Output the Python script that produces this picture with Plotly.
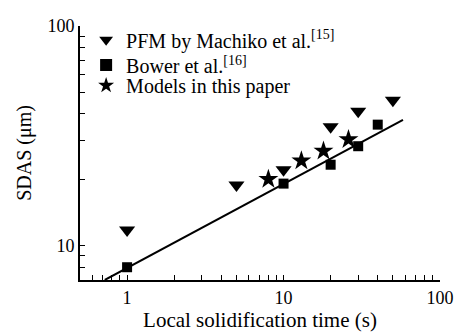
import plotly.graph_objects as go

# Data
pfm_x = [1, 5, 10, 20, 30, 50]
pfm_y = [11.8, 18.9, 22.2, 34.8, 41.0, 45.9]

bower_x = [1, 10, 20, 30, 40]
bower_y = [8.0, 19.2, 23.4, 28.4, 35.6]

model_x = [8, 13, 18, 26]
model_y = [20.1, 24.4, 27.0, 30.5]

fit_x = [0.72, 58]
fit_y = [7.0, 37.4]

x_tickvals = [0.6, 0.7, 0.8, 0.9, 1, 2, 3, 4, 5, 6, 7, 8, 9, 10,
              20, 30, 40, 50, 60, 70, 80, 90, 100]
x_ticktext = [str(v) if v in (1, 10, 100) else "" for v in x_tickvals]
y_tickvals = [8, 9, 10, 20, 30, 40, 50, 60, 70, 80, 90, 100]
y_ticktext = [str(v) if v in (10, 100) else "" for v in y_tickvals]

FONT = "Liberation Serif"

fig = go.Figure()
fig.add_trace(go.Scatter(x=pfm_x, y=pfm_y, mode="markers", legend="legend",
                         name="PFM by Machiko et al.<sup>[15]</sup>",
                         marker=dict(symbol="triangle-down", size=14, color="black")))
fig.add_trace(go.Scatter(x=bower_x, y=bower_y, mode="markers", legend="legend2",
                         name="Bower et al.<sup>[16]</sup>",
                         marker=dict(symbol="square", size=10, color="black")))
fig.add_trace(go.Scatter(x=model_x, y=model_y, mode="markers", legend="legend3",
                         name="Models in this paper",
                         marker=dict(symbol="star", size=15, color="black")))
fig.add_trace(go.Scatter(x=fit_x, y=fit_y, mode="lines", showlegend=False,
                         line=dict(color="black", width=2)))

axis_common = dict(showline=True, linecolor="black", linewidth=2,
                   ticks="inside", ticklen=5, tickwidth=1, tickcolor="black",
                   showgrid=False, zeroline=False, mirror=False, automargin=False,
                   tickangle=0,
                   tickfont=dict(family=FONT, size=18, color="black"))

fig.update_xaxes(type="log", range=[-0.301, 2.0], tickvals=x_tickvals, ticktext=x_ticktext,
                 title=dict(text="Local solidification time (s)", font=dict(family=FONT, size=21, color="black"),
                            standoff=6),
                 **axis_common)
fig.update_yaxes(type="log", range=[0.845, 2.0], tickvals=y_tickvals, ticktext=y_ticktext,
                 title=dict(text="SDAS (μm)", font=dict(family=FONT, size=20, color="black"),
                            standoff=10),
                 **axis_common)

def legend_style(ypos):
    return dict(x=0.017, y=ypos, xanchor="left", yanchor="middle",
                bgcolor="rgba(0,0,0,0)", font=dict(family=FONT, size=20, color="black"),
                tracegroupgap=0, itemsizing="constant")

# page body has an 8px margin, so the figure is shrunk and shifted to compensate
fig.update_layout(
    width=454, height=328,
    margin=dict(l=72, r=22, t=12, b=56),
    paper_bgcolor="white", plot_bgcolor="white",
    font=dict(family=FONT, size=18, color="black"),
    legend=legend_style(0.946),
    legend2=legend_style(0.846),
    legend3=legend_style(0.766),
    showlegend=True,
)

fig.write_html("out.html")
